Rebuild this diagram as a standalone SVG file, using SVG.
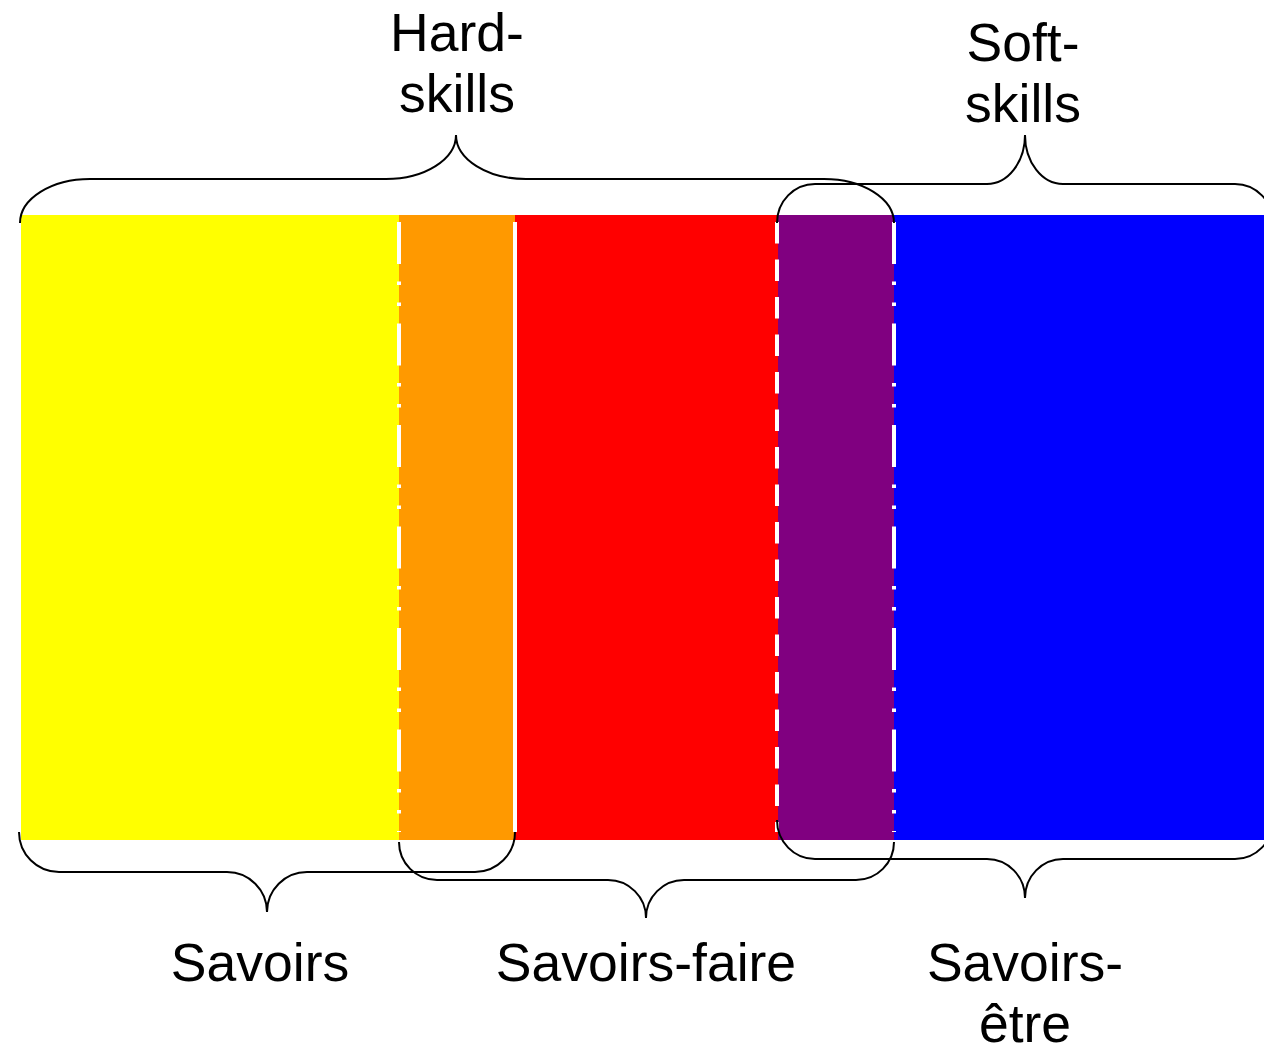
<svg xmlns="http://www.w3.org/2000/svg" width="1264" height="1048" viewBox="0 0 1264 1048">
<style>
.lbl{font-family:"Liberation Sans",Arial,sans-serif;font-size:53.5px;fill:#000;text-anchor:middle}
.brace{fill:none;stroke:#000;stroke-width:2}
.sep{fill:none;stroke:#fff;stroke-width:4}
</style>
<rect width="1264" height="1048" fill="#fff"/>
<g id="band-savoirs"><rect x="21" y="215" width="378" height="625" fill="#FFFF00"/></g>
<g id="band-overlap-savoirs-faire"><rect x="399" y="215" width="116" height="625" fill="#FF9900"/></g>
<g id="band-savoirs-faire"><rect x="515" y="215" width="263" height="625" fill="#FF0000"/></g>
<g id="band-overlap-faire-etre"><rect x="778" y="215" width="116" height="625" fill="#800080"/></g>
<g id="band-savoirs-etre"><rect x="894" y="215" width="370" height="625" fill="#0000FF"/></g>
<g id="separators">
<line class="sep" x1="399" y1="222" x2="399" y2="832" stroke-dasharray="42 17.5 3.5 17.5 3.5 17.5"/>
<line class="sep" x1="515" y1="222" x2="515" y2="832"/>
<line class="sep" x1="777" y1="222" x2="777" y2="832" stroke-dasharray="21.5 16"/>
<line class="sep" x1="894" y1="222" x2="894" y2="832" stroke-dasharray="42 17.5 3.5 17.5 3.5 17.5"/>
</g>
<g id="connectors">
<path id="brace-hard" class="brace" d="M20,223 A70,44 0 0 1 90,179 L386,179 A70,44 0 0 0 456,135 A70,44 0 0 0 526,179 L824,179 A70,44 0 0 1 894,223"/>
<path id="brace-soft" class="brace" d="M777,223 A38,39 0 0 1 815,184 L987,184 A38,49 0 0 0 1025,135 A38,49 0 0 0 1063,184 L1235,184 A38,39 0 0 1 1273,223"/>
<path id="brace-savoirs" class="brace" d="M19,832 A40,40 0 0 0 59,872 L227,872 A40,40 0 0 1 267,912 A40,40 0 0 1 307,872 L475,872 A40,40 0 0 0 515,832"/>
<path id="brace-faire" class="brace" d="M399,842 A38,38 0 0 0 437,880 L608,880 A38,38 0 0 1 646,918 A38,38 0 0 1 684,880 L856,880 A38,38 0 0 0 894,842"/>
<path id="brace-etre" class="brace" d="M777,820 A38,39 0 0 0 815,859 L987,859 A38,39 0 0 1 1025,898 A38,39 0 0 1 1063,859 L1235,859 A38,39 0 0 0 1273,820"/>
</g>
<g id="labels">
<text class="lbl" x="457" y="51">Hard-</text>
<text class="lbl" x="457" y="112">skills</text>
<text class="lbl" x="1023" y="61">Soft-</text>
<text class="lbl" x="1023" y="122">skills</text>
<text class="lbl" x="260" y="981">Savoirs</text>
<text class="lbl" x="646" y="981">Savoirs-faire</text>
<text class="lbl" x="1025" y="981">Savoirs-</text>
<text class="lbl" x="1025" y="1042">être</text>
</g>
</svg>
